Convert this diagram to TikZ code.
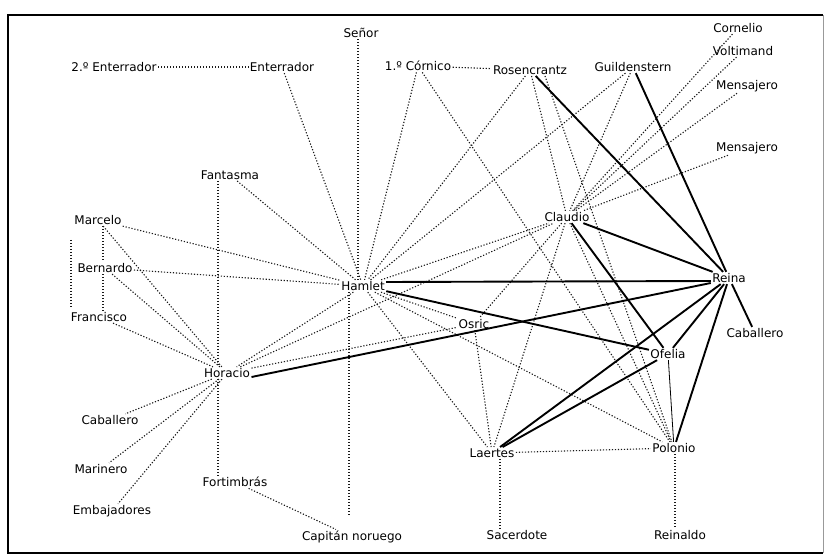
\documentclass[tikz,border=0pt]{standalone}
\usepackage{fontspec}
\setmainfont{DejaVu Sans}
\begin{document}
\begin{tikzpicture}[x=1pt,y=-1pt,
  lbl/.style={font=\fontsize{12}{14}\selectfont, inner sep=1.5pt, outer sep=0pt, text=black},
  dotl/.style={line width=1.1pt, dash pattern=on 1.2pt off 1.8pt, black!90},
  strong/.style={line width=1.9pt, black},
  thinl/.style={line width=0.8pt, black},
  frame/.style={line width=1.3pt, black}]
\useasboundingbox (0,0) rectangle (831,559);
% frame
\draw[frame] (823,15) -- (8,15) -- (8,553) -- (823,553);
\draw[line width=0.5pt, black!40] (823,15) -- (823,553);

% nodes
\node[lbl] (ent2) at (114,67) {2.º Enterrador};
\node[lbl] (ent) at (282,67) {Enterrador};
\node[lbl] (senor) at (361,33) {Señor};
\node[lbl] (cornico) at (418,66) {1.º Córnico};
\node[lbl] (rosen) at (530,70) {Rosencrantz};
\node[lbl] (guild) at (633,67) {Guildenstern};
\node[lbl] (cornelio) at (738,28) {Cornelio};
\node[lbl] (voltimand) at (743,51) {Voltimand};
\node[lbl] (mens1) at (747,86) {Mensajero};
\node[lbl] (mens2) at (747,148) {Mensajero};
\node[lbl] (fantasma) at (230,175) {Fantasma};
\node[lbl] (marcelo) at (98,220) {Marcelo};
\node[lbl] (bernardo) at (105,268) {Bernardo};
\node[lbl] (francisco) at (99,317) {Francisco};
\node[lbl] (hamlet) at (363,286) {Hamlet};
\node[lbl] (horacio) at (227,373) {Horacio};
\node[lbl] (claudio) at (567,217) {Claudio};
\node[lbl] (reina) at (729,278) {Reina};
\node[lbl] (osric) at (474,324) {Osric};
\node[lbl] (cab2) at (755,333) {Caballero};
\node[lbl] (ofelia) at (668,354) {Ofelia};
\node[lbl] (cab1) at (110,420) {Caballero};
\node[lbl] (marinero) at (101,469) {Marinero};
\node[lbl] (embaj) at (112,511) {Embajadores};
\node[lbl] (fortimbras) at (235,482) {Fortimbrás};
\node[lbl] (capitan) at (352,537) {Capitán noruego};
\node[lbl] (laertes) at (492,453) {Laertes};
\node[lbl] (polonio) at (674,448) {Polonio};
\node[lbl] (sacerdote) at (517,535) {Sacerdote};
\node[lbl] (reinaldo) at (680,535) {Reinaldo};
\coordinate (mf1) at (71,240);
\coordinate (mf2) at (71,308);

% dotted connectors
\draw[dotl] (ent2) -- (ent);
\draw[dotl] (ent) -- (hamlet);
\draw[dotl] ([xshift=-3pt]senor.south) -- ([xshift=-5pt]hamlet.north);
\draw[dotl] (cornico) -- (hamlet);
\draw[dotl] (cornico) -- (rosen);
\draw[dotl] (cornico) -- (polonio);
\draw[dotl] (rosen) -- (hamlet);
\draw[dotl] (rosen) -- (claudio);
\draw[dotl] ([xshift=15pt]rosen.south) -- (polonio);
\draw[dotl] (guild) -- (hamlet);
\draw[dotl] (guild) -- (claudio);
\draw[dotl] (cornelio) -- (claudio);
\draw[dotl] (voltimand) -- (claudio);
\draw[dotl] (mens1) -- (claudio);
\draw[dotl] (mens2) -- (claudio);
\draw[dotl] (fantasma) -- (hamlet);
\draw[dotl] ([xshift=-12pt]fantasma.south) -- ([xshift=-9pt]horacio.north);
\draw[dotl] (marcelo) -- (hamlet);
\draw[dotl] (marcelo) -- (horacio);
\draw[dotl] ([xshift=5pt]marcelo.south) -- ([xshift=-2pt]bernardo.north);
\draw[dotl] ([xshift=-2pt]bernardo.south) -- ([xshift=4pt]francisco.north);
\draw[dotl] (mf1) -- (mf2);
\draw[dotl] (bernardo) -- (hamlet);
\draw[dotl] (bernardo) -- (horacio);
\draw[dotl] (francisco) -- (horacio);
\draw[dotl] (hamlet) -- (horacio);
\draw[dotl] (hamlet) -- (claudio);
\draw[dotl] (hamlet) -- (osric);
\draw[dotl] (hamlet) -- (laertes);
\draw[dotl] (hamlet) -- (polonio);
\draw[dotl] ([xshift=-14pt]hamlet.south) -- ([xshift=-3pt,yshift=14pt]capitan.north);
\draw[dotl] (horacio) -- (claudio);
\draw[dotl] (horacio) -- (osric);
\draw[dotl] (horacio) -- (cab1);
\draw[dotl] (horacio) -- (marinero);
\draw[dotl] (horacio) -- (embaj);
\draw[dotl] ([xshift=-9pt]horacio.south) -- ([xshift=-17pt]fortimbras.north);
\draw[dotl] (fortimbras) -- (capitan);
\draw[dotl] (claudio) -- (osric);
\draw[dotl] (claudio) -- (laertes);
\draw[dotl] (claudio) -- (polonio);
\draw[dotl] (osric) -- (laertes);
\draw[dotl] (laertes) -- (polonio);
\draw[dotl] ([xshift=8pt]laertes.south) -- ([xshift=-17pt]sacerdote.north);
\draw[dotl] ([xshift=1pt]polonio.south) -- ([xshift=-5pt]reinaldo.north);

% solid connectors
\draw[strong] ([yshift=4pt]hamlet.east) -- ([yshift=-3pt]reina.west);
\draw[strong] (hamlet) -- (ofelia);
\draw[strong] ([yshift=-4pt]horacio.east) -- ([yshift=-5pt]reina.west);
\draw[strong] (claudio) -- (reina);
\draw[strong] (claudio) -- (ofelia);
\draw[strong] (rosen) -- (reina);
\draw[strong] (guild) -- (reina);
\draw[strong] (reina) -- (ofelia);
\draw[strong] (reina) -- (laertes);
\draw[strong] (reina) -- (polonio);
\draw[strong] (reina) -- (cab2);
\draw[strong] (laertes) -- (ofelia);
\draw[thinl] (ofelia) -- (polonio);
\end{tikzpicture}
\end{document}
